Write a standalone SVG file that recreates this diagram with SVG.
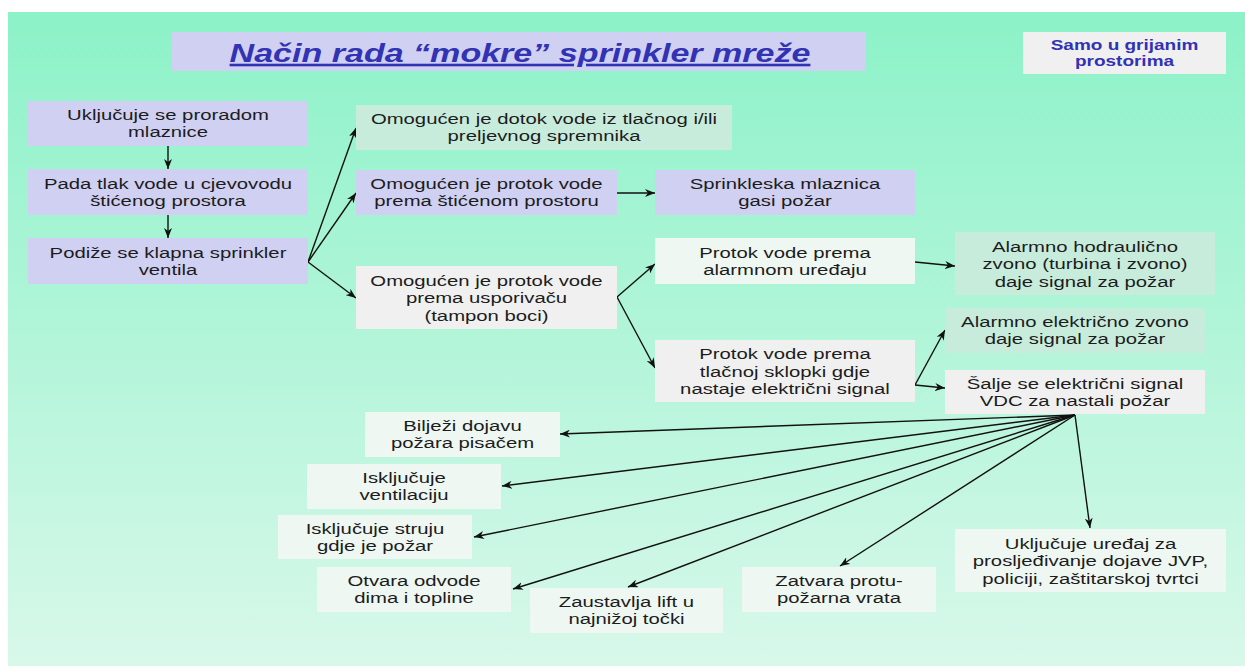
<svg xmlns="http://www.w3.org/2000/svg" width="1245" height="666" viewBox="0 0 1245 666">
<style>
.t{font-family:"Liberation Sans",Arial,sans-serif;font-size:15.5px;fill:#1c1c1c;text-anchor:middle}
.ttl{font-family:"Liberation Sans",Arial,sans-serif;font-size:26px;font-weight:bold;font-style:italic;fill:#3232b4;text-anchor:middle;text-decoration:underline}
.note{font-family:"Liberation Sans",Arial,sans-serif;font-size:14.5px;font-weight:bold;fill:#3232b4;text-anchor:middle}
.lav{fill:#d0d0f2}
.mint{fill:#c8ecdc}
.grey{fill:#f0f0f0}
.pale{fill:#eef7f2}
.c line{stroke:#111;stroke-width:1.4;marker-end:url(#ah)}
</style>
<defs>
<linearGradient id="bg" x1="0" y1="0" x2="0" y2="1">
<stop offset="0" stop-color="#8cf2c8"/>
<stop offset="1" stop-color="#d8f8ea"/>
</linearGradient>
<marker id="ah" markerUnits="userSpaceOnUse" markerWidth="11" markerHeight="8" refX="10" refY="4" orient="auto">
<path d="M0,0 L10,4 L0,8 L3,4 z" fill="#111"/>
</marker>
</defs>
<rect x="0" y="0" width="1245" height="666" fill="#ffffff"/>
<rect x="8" y="12" width="1237" height="654" fill="url(#bg)"/>

<g id="title">
<rect x="172" y="32" width="694" height="39" class="lav"/>
<g transform="translate(520 0) scale(1.31 1)"><text class="ttl" x="0" y="62">Način rada “mokre” sprinkler mreže</text></g>
</g>
<g id="note">
<rect x="1023" y="32" width="203" height="42" class="grey"/>
<g transform="translate(1124.5 0) scale(1.31 1)"><text class="note"><tspan x="0" y="50">Samo u grijanim</tspan><tspan x="0" y="66">prostorima</tspan></text></g>
</g>

<g class="c" id="connectors">
<line x1="168" y1="146" x2="168" y2="169"/>
<line x1="168" y1="215" x2="168" y2="238"/>
<line x1="308" y1="262" x2="356" y2="128"/>
<line x1="308" y1="262" x2="356" y2="193"/>
<line x1="308" y1="262" x2="356" y2="298"/>
<line x1="617" y1="193" x2="655" y2="193"/>
<line x1="617" y1="297" x2="655" y2="264"/>
<line x1="617" y1="297" x2="655" y2="368"/>
<line x1="915" y1="262" x2="955" y2="266"/>
<line x1="915" y1="385" x2="945" y2="330"/>
<line x1="915" y1="385" x2="945" y2="388"/>
<line x1="1075" y1="415" x2="560" y2="434"/>
<line x1="1075" y1="415" x2="502" y2="486"/>
<line x1="1075" y1="415" x2="474" y2="537"/>
<line x1="1075" y1="415" x2="513" y2="589"/>
<line x1="1075" y1="415" x2="628" y2="587"/>
<line x1="1075" y1="415" x2="840" y2="566"/>
<line x1="1075" y1="415" x2="1090" y2="528"/>
</g>

<g id="n1"><rect x="28" y="101" width="280" height="45" class="lav"/>
<g transform="translate(168 0) scale(1.31 1)"><text class="t"><tspan x="0" y="120">Uključuje se proradom</tspan><tspan x="0" y="137.5">mlaznice</tspan></text></g></g>
<g id="n2"><rect x="28" y="169" width="280" height="46" class="lav"/>
<g transform="translate(168 0) scale(1.31 1)"><text class="t"><tspan x="0" y="189">Pada tlak vode u cjevovodu</tspan><tspan x="0" y="206.5">štićenog prostora</tspan></text></g></g>
<g id="n3"><rect x="28" y="238" width="280" height="46" class="lav"/>
<g transform="translate(168 0) scale(1.31 1)"><text class="t"><tspan x="0" y="258">Podiže se klapna sprinkler</tspan><tspan x="0" y="275.5">ventila</tspan></text></g></g>

<g id="nA"><rect x="356" y="105" width="376" height="45" class="mint"/>
<g transform="translate(544 0) scale(1.31 1)"><text class="t"><tspan x="0" y="124">Omogućen je dotok vode iz tlačnog i/ili</tspan><tspan x="0" y="141.5">preljevnog spremnika</tspan></text></g></g>
<g id="nB"><rect x="356" y="170" width="261" height="45" class="lav"/>
<g transform="translate(486.5 0) scale(1.31 1)"><text class="t"><tspan x="0" y="189">Omogućen je protok vode</tspan><tspan x="0" y="206.5">prema štićenom prostoru</tspan></text></g></g>
<g id="nC"><rect x="655" y="170" width="260" height="45" class="lav"/>
<g transform="translate(785 0) scale(1.31 1)"><text class="t"><tspan x="0" y="189">Sprinkleska mlaznica</tspan><tspan x="0" y="206.5">gasi požar</tspan></text></g></g>
<g id="nD"><rect x="356" y="266" width="261" height="63" class="grey"/>
<g transform="translate(486.5 0) scale(1.31 1)"><text class="t"><tspan x="0" y="286">Omogućen je protok vode</tspan><tspan x="0" y="303.5">prema usporivaču</tspan><tspan x="0" y="321">(tampon boci)</tspan></text></g></g>
<g id="nE"><rect x="655" y="238" width="260" height="46" class="pale"/>
<g transform="translate(785 0) scale(1.31 1)"><text class="t"><tspan x="0" y="258">Protok vode prema</tspan><tspan x="0" y="275.5">alarmnom uređaju</tspan></text></g></g>
<g id="nG"><rect x="955" y="232" width="260" height="63" class="mint"/>
<g transform="translate(1085 0) scale(1.31 1)"><text class="t"><tspan x="0" y="252">Alarmno hodraulično</tspan><tspan x="0" y="269.5">zvono (turbina i zvono)</tspan><tspan x="0" y="287">daje signal za požar</tspan></text></g></g>
<g id="nH"><rect x="945" y="308" width="260" height="45" class="mint"/>
<g transform="translate(1075 0) scale(1.31 1)"><text class="t"><tspan x="0" y="327">Alarmno električno zvono</tspan><tspan x="0" y="344.5">daje signal za požar</tspan></text></g></g>
<g id="nF"><rect x="655" y="340" width="260" height="62" class="grey"/>
<g transform="translate(785 0) scale(1.31 1)"><text class="t"><tspan x="0" y="359.5">Protok vode prema</tspan><tspan x="0" y="377">tlačnoj sklopki  gdje</tspan><tspan x="0" y="394.5">nastaje električni signal</tspan></text></g></g>
<g id="nI"><rect x="945" y="370" width="260" height="44" class="grey"/>
<g transform="translate(1075 0) scale(1.31 1)"><text class="t"><tspan x="0" y="389">Šalje se električni signal</tspan><tspan x="0" y="406.5">VDC za nastali požar</tspan></text></g></g>

<g id="nJ"><rect x="365" y="412" width="195" height="45" class="pale"/>
<g transform="translate(462.5 0) scale(1.31 1)"><text class="t"><tspan x="0" y="431">Bilježi dojavu</tspan><tspan x="0" y="448.5">požara pisačem</tspan></text></g></g>
<g id="nK"><rect x="307" y="464" width="194" height="45" class="pale"/>
<g transform="translate(404 0) scale(1.31 1)"><text class="t"><tspan x="0" y="483">Isključuje</tspan><tspan x="0" y="500.5">ventilaciju</tspan></text></g></g>
<g id="nL"><rect x="278" y="515" width="194" height="44" class="pale"/>
<g transform="translate(375 0) scale(1.31 1)"><text class="t"><tspan x="0" y="534">Isključuje struju</tspan><tspan x="0" y="551.5">gdje je požar</tspan></text></g></g>
<g id="nM"><rect x="317" y="567" width="194" height="45" class="pale"/>
<g transform="translate(414 0) scale(1.31 1)"><text class="t"><tspan x="0" y="586">Otvara odvode</tspan><tspan x="0" y="603.5">dima i topline</tspan></text></g></g>
<g id="nN"><rect x="530" y="588" width="193" height="45" class="pale"/>
<g transform="translate(626.5 0) scale(1.31 1)"><text class="t"><tspan x="0" y="607">Zaustavlja lift u</tspan><tspan x="0" y="624.5">najnižoj točki</tspan></text></g></g>
<g id="nO"><rect x="742" y="567" width="194" height="45" class="pale"/>
<g transform="translate(839 0) scale(1.31 1)"><text class="t"><tspan x="0" y="586">Zatvara protu-</tspan><tspan x="0" y="603.5">požarna vrata</tspan></text></g></g>
<g id="nP"><rect x="955" y="529" width="271" height="63" class="pale"/>
<g transform="translate(1090.5 0) scale(1.31 1)"><text class="t"><tspan x="0" y="549">Uključuje uređaj za</tspan><tspan x="0" y="566.5">prosljeđivanje dojave JVP,</tspan><tspan x="0" y="584">policiji, zaštitarskoj tvrtci</tspan></text></g></g>
</svg>
